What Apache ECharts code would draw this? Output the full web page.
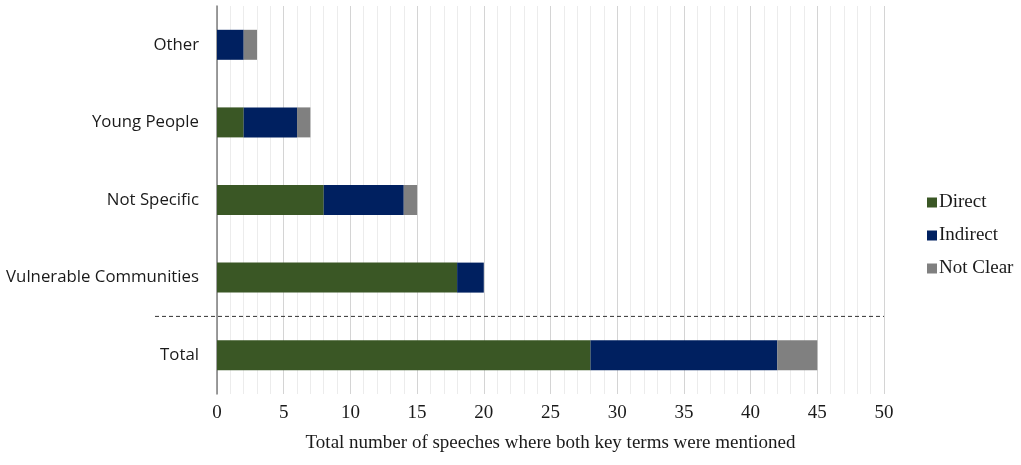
<!DOCTYPE html>
<html>
<head>
<meta charset="utf-8">
<script src="https://cdn.jsdelivr.net/npm/echarts@6/dist/echarts.min.js"></script>
<style>
  html, body { margin: 0; padding: 0; background: #fff; }
  #main { width: 1021px; height: 465px; }
</style>
</head>
<body>
<div id="main"></div>
<script>
// categories bottom -> top
const categories = ['Total', 'Vulnerable Communities', 'Not Specific', 'Young People', 'Other'];
const direct = [28, 18, 8, 2, 0];
const indirect = [14, 2, 6, 4, 2];
const notClear = [3, 0, 1, 1, 1];

const chart = echarts.init(document.getElementById('main'));

const serif = '"Liberation Serif", "Times New Roman", serif';

const option = {
  backgroundColor: '#fff',
  animation: false,
  color: ['#3a5725', '#002060', '#808080'],
  grid: { left: 217, right: 137, top: 6, bottom: 71 },
  legend: {
    orient: 'vertical',
    left: 922,
    top: 188,
    itemWidth: 10,
    itemHeight: 10,
    itemGap: 14,
    icon: 'rect',
    textStyle: { fontFamily: serif, fontSize: 19, color: '#1a1a1a', padding: [0, 0, 0, -3] },
    data: ['Direct', 'Indirect', 'Not Clear']
  },
  xAxis: {
    type: 'value',
    min: 0,
    max: 50,
    interval: 5,
    axisLine: { show: false },
    axisTick: { show: false },
    axisLabel: { fontFamily: serif, fontSize: 19, color: '#1a1a1a', margin: 10 },
    splitLine: { show: true, lineStyle: { color: '#d4d4d4', width: 1 } },
    minorTick: { show: false, splitNumber: 5 },
    minorSplitLine: { show: true, lineStyle: { color: '#ececec', width: 1 } },
    name: 'Total number of speeches where both key terms were mentioned',
    nameLocation: 'middle',
    nameGap: 40,
    nameTextStyle: { fontFamily: serif, fontSize: 19, color: '#1a1a1a' }
  },
  yAxis: {
    type: 'category',
    data: categories,
    axisLine: { show: true, lineStyle: { color: '#7f7f7f', width: 1.5 } },
    axisTick: { show: false },
    axisLabel: { fontFamily: '"Open Sans", "Noto Sans", sans-serif', fontSize: 16.8, color: '#1a1a1a', margin: 18 }
  },
  series: [
    { name: 'Direct', type: 'bar', stack: 'all', barWidth: 30, data: direct },
    { name: 'Indirect', type: 'bar', stack: 'all', barWidth: 30, data: indirect },
    { name: 'Not Clear', type: 'bar', stack: 'all', barWidth: 30, data: notClear }
  ]
};

chart.setOption(option);

// dashed separator between Total and the other groups
const y0 = chart.convertToPixel({ yAxisIndex: 0 }, 0);
const y1 = chart.convertToPixel({ yAxisIndex: 0 }, 1);
const xEnd = chart.convertToPixel({ xAxisIndex: 0 }, 50);
const ySep = (y0 + y1) / 2;
chart.setOption({
  graphic: [{
    type: 'line',
    shape: { x1: 155, y1: ySep, x2: xEnd, y2: ySep },
    style: { stroke: '#333', lineWidth: 1, lineDash: [4, 3] },
    z: 10
  }]
});
</script>
</body>
</html>
